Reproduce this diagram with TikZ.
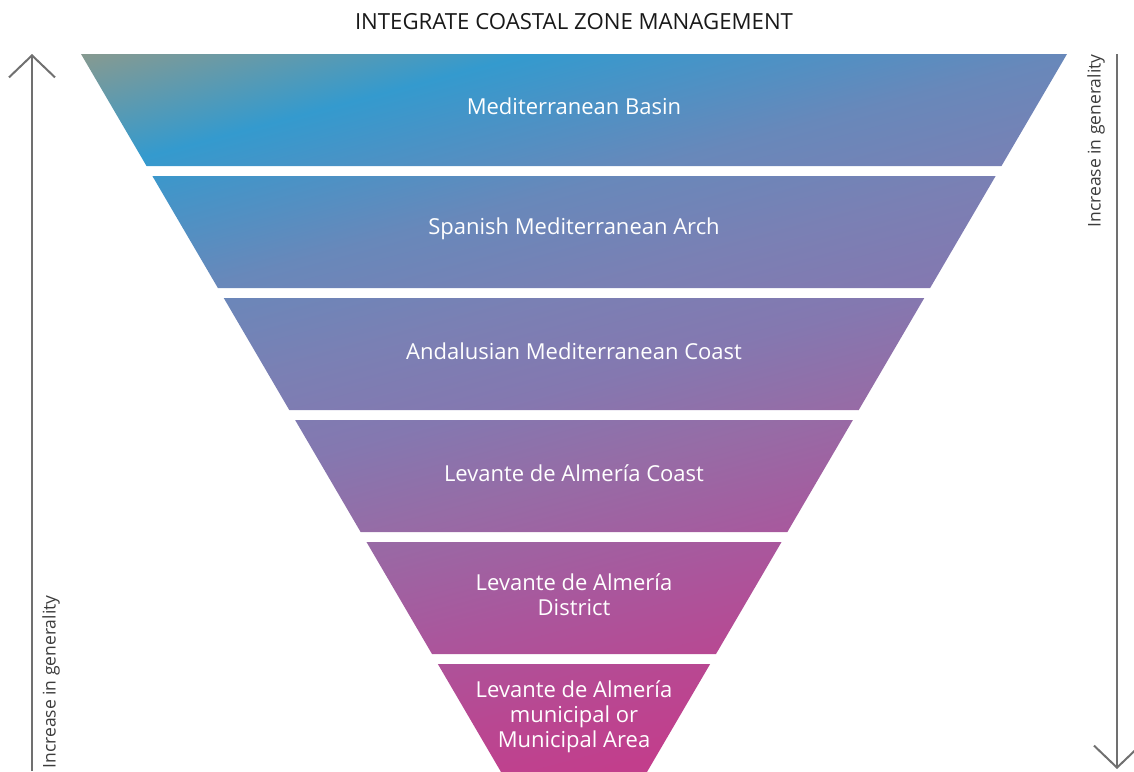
\documentclass[tikz,border=0pt]{standalone}
\usepackage{fontspec}
\setmainfont{Open Sans}
\usetikzlibrary{arrows.meta,positioning}

\definecolor{shadeA}{RGB}{138,154,142}
\definecolor{shadeB}{RGB}{52,154,206}
\definecolor{shadeC}{RGB}{104,136,186}
\definecolor{shadeD}{RGB}{122,128,180}
\definecolor{shadeE}{RGB}{132,120,176}
\definecolor{shadeF}{RGB}{150,108,166}
\definecolor{shadeG}{RGB}{170,86,156}
\definecolor{shadeH}{RGB}{184,72,146}
\definecolor{shadeI}{RGB}{194,62,140}
\definecolor{axisgray}{RGB}{112,112,112}
\definecolor{labelgray}{RGB}{60,60,60}

\pgfdeclarehorizontalshading{funnelshade}{1600bp}{color(0bp)=(shadeA); color(70bp)=(shadeA);
  color(190bp)=(shadeB); color(330bp)=(shadeC); color(430bp)=(shadeD); color(520bp)=(shadeE);
  color(610bp)=(shadeF); color(730bp)=(shadeG); color(820bp)=(shadeH); color(900bp)=(shadeI);
  color(1000bp)=(shadeI)}

\tikzset{
  level/.style={text=white, font=\fontsize{22}{25}\selectfont, align=center, inner sep=0pt},
  axis/.style={draw=axisgray, line width=2pt, -{Straight Barb[length=22pt,width=46pt,line width=2pt]}},
  axislabel/.style={text=labelgray, font=\fontsize{17.5}{20}\selectfont, rotate=90, inner sep=0pt},
}

\begin{document}
\begin{tikzpicture}[x=1pt,y=-1pt]
    \useasboundingbox (0,0) rectangle (1134,771);

    % funnel bands, one gradient across all of them
    \begin{scope}
        \clip \foreach \i in {0,...,5} {
            ({81+71.37*\i},{54+122*\i}) -- ({1067-71.37*\i},{54+122*\i})
            -- ({1001.48-71.37*\i},{166+122*\i}) -- ({146.52+71.37*\i},{166+122*\i}) -- cycle
        };
        \node[inner sep=0pt, rotate=-75] (grad) at (651.1,343.1) {\pgfuseshading{funnelshade}};
    \end{scope}

    \node[text=black!90, font=\fontsize{22.2}{25}\selectfont] (title) at (574,22) {INTEGRATE COASTAL ZONE MANAGEMENT};

    \node[level] (band1) at (574,106) {Mediterranean Basin};
    \node[level] (band2) at (574,229) {Spanish Mediterranean Arch};
    \node[level] (band3) at (574,351) {Andalusian Mediterranean Coast};
    \node[level] (band4) at (574,473) {Levante de Almería Coast};
    \node[level] (band5) at (574,595) {Levante de Almería\\District};
    \node[level] (band6) at (574,717) {Levante de Almería\\municipal or\\Municipal Area};

    % generality axes
    \coordinate (lbot) at (32,771);
    \coordinate (ltop) at (32,54);
    \coordinate (rtop) at (1117,54);
    \coordinate (rbot) at (1117,769);
    \draw[axis] (lbot) -- (ltop);
    \draw[axis] (rtop) -- (rbot);
    \node[axislabel] (lgen) at (51,682) {Increase in generality};
    \node[axislabel] (rgen) at (1096,141) {Increase in generality};
\end{tikzpicture}
\end{document}
